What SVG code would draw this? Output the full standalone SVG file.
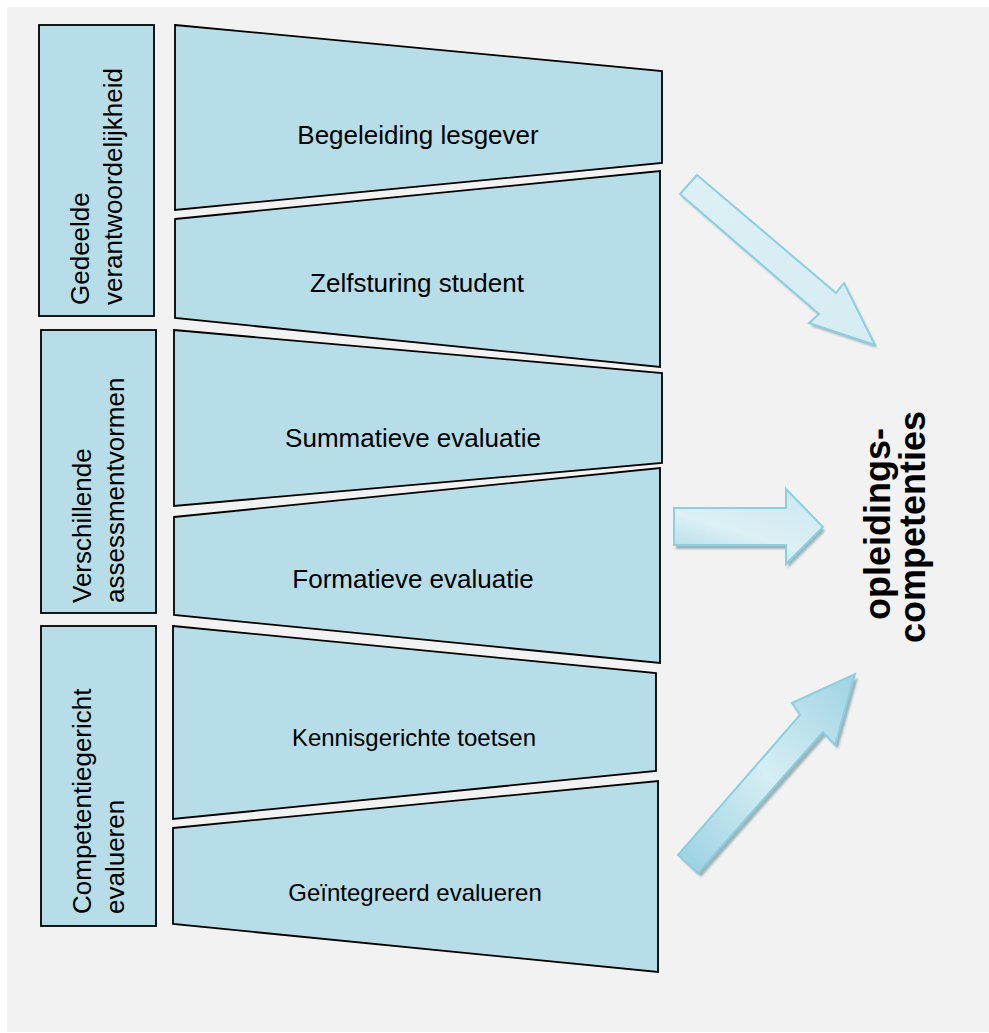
<svg xmlns="http://www.w3.org/2000/svg" width="989" height="1033" viewBox="0 0 989 1033">
  <defs>
    <style>
      .box { fill: #b7dde8; stroke: #000; stroke-width: 1.8; stroke-linejoin: miter; }
      .lbl { font-family: "Liberation Sans", Arial, sans-serif; font-size: 26px; fill: #000; }
      .lbl24 { font-family: "Liberation Sans", Arial, sans-serif; font-size: 24px; fill: #000; }
      .big { font-family: "Liberation Sans", Arial, sans-serif; font-size: 36px; font-weight: bold; fill: #000; }
      .arrow { stroke: #8ccfe0; stroke-width: 2; stroke-linejoin: miter; }
      .shadow { fill: #7f9ea6; opacity: 0.75; }
    </style>
    <linearGradient id="g1" x1="0" y1="0" x2="1" y2="1">
      <stop offset="0" stop-color="#dcf0f5"/>
      <stop offset="1" stop-color="#d6ecf3"/>
    </linearGradient>
    <linearGradient id="g2" x1="0" y1="1" x2="0.6" y2="0">
      <stop offset="0" stop-color="#a6d6e4"/>
      <stop offset="0.5" stop-color="#dcf0f5"/>
      <stop offset="1" stop-color="#cfe9f1"/>
    </linearGradient>
    <linearGradient id="g3" x1="0" y1="1" x2="1" y2="0">
      <stop offset="0" stop-color="#98d0e0"/>
      <stop offset="0.5" stop-color="#d6eef4"/>
      <stop offset="1" stop-color="#9ed3e2"/>
    </linearGradient>
    <filter id="blur" x="-10%" y="-10%" width="120%" height="120%">
      <feGaussianBlur stdDeviation="1"/>
    </filter>
  </defs>

  <rect x="0" y="0" width="989" height="1033" fill="#ffffff"/>
  <rect x="7" y="7" width="982" height="1025" fill="#f2f2f2"/>

  <g id="group-gedeelde">
    <rect class="box" x="39" y="25" width="115" height="291"/>
    <text class="lbl" transform="translate(89,305) rotate(-90)">Gedeelde</text>
    <text class="lbl" transform="translate(122,305) rotate(-90)">verantwoordelijkheid</text>
  </g>
  <g id="group-assessment">
    <rect class="box" x="41" y="330" width="115" height="283"/>
    <text class="lbl" transform="translate(91,603) rotate(-90)">Verschillende</text>
    <text class="lbl" transform="translate(124,603) rotate(-90)">assessmentvormen</text>
  </g>
  <g id="group-competentie">
    <rect class="box" x="41" y="626" width="115" height="300"/>
    <text class="lbl" transform="translate(91,914) rotate(-90)">Competentiegericht</text>
    <text class="lbl" transform="translate(124,914) rotate(-90)">evalueren</text>
  </g>

  <g id="node-begeleiding">
    <polygon class="box" points="175,25 662,71 662,163 175,210"/>
    <text class="lbl" x="418" y="144" text-anchor="middle">Begeleiding lesgever</text>
  </g>
  <g id="node-zelfsturing">
    <polygon class="box" points="175,219 660,171 660,367 175,318"/>
    <text class="lbl" x="417" y="292" text-anchor="middle">Zelfsturing student</text>
  </g>
  <g id="node-summatieve">
    <polygon class="box" points="174,330 662,373 662,463 174,506"/>
    <text class="lbl" x="413" y="447" text-anchor="middle">Summatieve evaluatie</text>
  </g>
  <g id="node-formatieve">
    <polygon class="box" points="174,517 660,468 660,663 174,615"/>
    <text class="lbl" x="413" y="588" text-anchor="middle">Formatieve evaluatie</text>
  </g>
  <g id="node-kennis">
    <polygon class="box" points="173,626 656,673 656,771 173,819"/>
    <text class="lbl24" x="414" y="746" text-anchor="middle">Kennisgerichte toetsen</text>
  </g>
  <g id="node-geintegreerd">
    <polygon class="box" points="173,828 658,781 658,972 173,924"/>
    <text class="lbl24" x="415" y="901" text-anchor="middle">Geïntegreerd evalueren</text>
  </g>

  <g id="node-opleidingscompetenties">
    <text class="big" transform="translate(890,524) rotate(-90)" text-anchor="middle">opleidings-</text>
    <text class="big" transform="translate(925,527) rotate(-90)" text-anchor="middle">competenties</text>
  </g>

  <g id="connectors">
    <g id="arrow-top">
      <polygon class="shadow" filter="url(#blur)" transform="translate(2,3)" points="697,175 836,293 844,283 875,345 809,323 819,314 680,194"/>
      <polygon class="arrow" fill="url(#g1)" points="697,175 836,293 844,283 875,345 809,323 819,314 680,194"/>
    </g>
    <g id="arrow-middle">
      <polygon class="shadow" filter="url(#blur)" transform="translate(2,4)" points="674,508 786,508 786,489 823,527 786,564 786,545 674,545"/>
      <polygon class="arrow" fill="url(#g2)" points="674,508 786,508 786,489 823,527 786,564 786,545 674,545"/>
    </g>
    <g id="arrow-bottom">
      <polygon class="shadow" filter="url(#blur)" transform="translate(3,4)" points="678,855 800,715 792,703 855,674 835,745 823,732 698,873"/>
      <polygon class="arrow" fill="url(#g3)" points="678,855 800,715 792,703 855,674 835,745 823,732 698,873"/>
    </g>
  </g>
</svg>
